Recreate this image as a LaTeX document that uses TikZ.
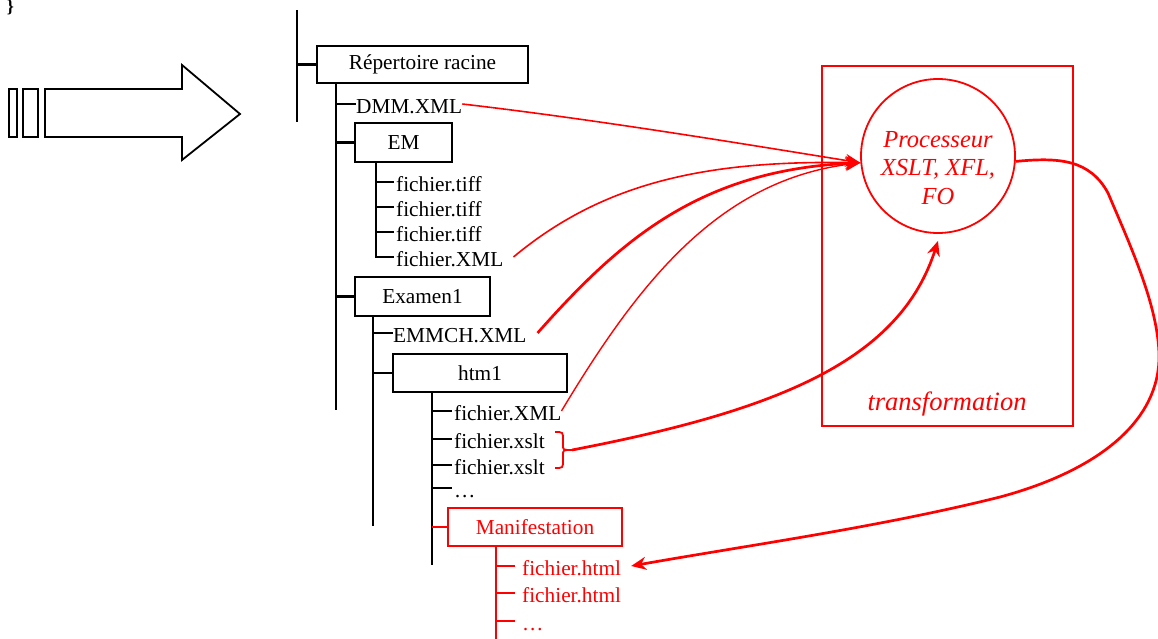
\documentclass[tikz,border=0pt]{standalone}
\usepackage{fontspec}
\setmainfont{Liberation Serif}
\usetikzlibrary{arrows.meta,calc}
\definecolor{rouge}{RGB}{255,0,0}
\begin{document}
\begin{tikzpicture}[x=1pt,y=-1pt,
  treeline/.style={line width=2.1pt,black},
  redline/.style={line width=2.1pt,rouge},
  txt/.style={font=\fontsize{21.3}{25}\selectfont},
  dirbox/.style={txt,draw,line width=1.8pt,minimum height=38pt,inner sep=0pt},
  leaf/.style={txt,anchor=west,inner sep=0pt,text height=19pt,text depth=0pt},
  redleaf/.style={leaf,text=rouge},
  ital/.style={text=rouge,font=\fontsize{24.5}{28.5}\selectfont\itshape,align=center,inner sep=0pt},
  link/.style={rouge,line width=1.6pt,-{Stealth[length=15pt,width=13pt,inset=5pt]}},
  biglink/.style={link,line width=2.7pt},
]
\clip (0,0) rectangle (1158,639);

% stray brace in the corner
\node[font=\fontsize{18}{18}\selectfont\bfseries,anchor=south,inner sep=0pt] (brk) at (10.5,15) {\}};

% big hollow arrow with its two bars
\draw[line width=1.8pt] (9,89) rectangle (17,137);
\draw[line width=1.8pt] (23,89) rectangle (38,137);
\draw[line width=1.8pt,line join=miter] (45,89) -- (182,89) -- (182,65) -- (240,114)
  -- (182,160) -- (182,137) -- (45,137) -- cycle;

% ---------- directory tree ----------
\coordinate (axis) at (297,10);
\coordinate (axisend) at (297,122);
\draw[treeline] (axis) -- (axisend);

\node[dirbox,minimum width=211pt,minimum height=37pt] (root) at (422.5,64.5) {Répertoire racine};
\draw[treeline] (axis |- root.west) -- (root.west);

\coordinate (rtrunk) at (336,410);
\draw[treeline] (rtrunk |- root.south) -- (rtrunk);

\node[leaf] (dmm) at (356,104) {DMM.XML};
\draw[treeline] (rtrunk |- dmm.west) -- (dmm.west);

\node[dirbox,minimum width=97pt,minimum height=39pt] (em) at (403.5,142.5) {EM};
\draw[treeline] (rtrunk |- em.west) -- (em.west);

\coordinate (emtrunk) at (376,257);
\node[leaf] (t1) at (396,182) {fichier.tiff};
\node[leaf] (t2) at (396,207) {fichier.tiff};
\node[leaf] (t3) at (396,232) {fichier.tiff};
\node[leaf] (fx) at (396,257) {fichier.XML};
\draw[treeline] (emtrunk |- em.south) -- (emtrunk) -- ([xshift=-2pt]fx.west);
\foreach \n in {t1,t2,t3}
  \draw[treeline] (emtrunk |- \n.west) -- ([xshift=-2pt]\n.west);

\node[dirbox,minimum width=135pt,minimum height=39pt] (ex) at (422.5,296.5) {Examen1};
\draw[treeline] (rtrunk |- ex.west) -- (ex.west);

\coordinate (extrunk) at (373,526);
\draw[treeline] (extrunk |- ex.south) -- (extrunk);
\node[leaf] (emmch) at (393,333) {EMMCH.XML};
\draw[treeline] (extrunk |- emmch.west) -- (emmch.west);

\node[dirbox,minimum width=174pt] (htm) at (480,373) {htm1};
\draw[treeline] (extrunk |- htm.west) -- (htm.west);

\coordinate (htrunk) at (432,565);
\draw[treeline] (htrunk |- htm.south) -- (htrunk);
\node[leaf] (hx) at (454,411) {fichier.XML};
\node[leaf] (xs1) at (454,439) {fichier.xslt};
\node[leaf] (xs2) at (454,465) {fichier.xslt};
\node[leaf] (dots) at (454,488) {…};
\foreach \n in {hx,xs1,xs2,dots}
  \draw[treeline] (htrunk |- \n.west) -- ([xshift=-2pt]\n.west);

\node[dirbox,draw=rouge,text=rouge,minimum width=174pt] (man) at (535,527) {Manifestation};
\draw[redline] (htrunk |- man.west) -- (man.west);

\coordinate (mtrunk) at (496,645);
\draw[redline] (mtrunk |- man.south) -- (mtrunk);
\node[redleaf] (h1) at (522,566) {fichier.html};
\node[redleaf] (h2) at (522,593) {fichier.html};
\node[redleaf] (hd) at (522,621) {…};
\foreach \n in {h1,h2,hd}
  \draw[redline] (mtrunk |- \n.west) -- ([xshift=-7pt]\n.west);

% brace grouping the two stylesheets
\coordinate (brtip) at (572,450);
\draw[rouge,line width=1.8pt] (555,432) .. controls (563,432) .. (563,440) -- (563,445)
  .. controls (563,450) .. (brtip);
\draw[rouge,line width=1.8pt] (555,468) .. controls (563,468) .. (563,460) -- (563,455)
  .. controls (563,450) .. (brtip);

% ---------- transformation block ----------
\node[draw=rouge,line width=2.1pt,minimum width=251pt,minimum height=360pt,inner sep=0pt] (tbox) at (947.5,246) {};
\node[ital,font=\fontsize{26.5}{28.5}\selectfont\itshape,anchor=base] (tlab) at (947,410) {transformation};
\node[circle,draw=rouge,line width=1.8pt,minimum size=154pt,inner sep=0pt] (proc) at (938,156) {};
\node[ital] (ptxt) at ($(proc.center)+(0,12)$) {Processeur\\XSLT, XFL,\\FO};

% ---------- flows ----------
\draw[link] (dmm.east) .. controls (600,120) and (750,145) .. (proc.185);
\draw[link] ($(fx.east)+(10,0)$) .. controls (600,185) and (700,160) .. (proc.185);
\draw[biglink] ($(emmch.east)+(11,0)$) .. controls (620,240) and (700,170) .. (proc.185);
\draw[link,line width=1.4pt] (hx.east) .. controls (640,280) and (720,180) .. (proc.185);
\draw[biglink] (brtip) .. controls (780,410) and (900,360) .. ($(proc.south)+(0,7)$);
\draw[biglink] (proc.-4) .. controls (1060,157) and (1090,160) .. (1108,193)
  .. controls (1130,245) and (1158,305) .. (1159,355)
  .. controls (1160,420) and (1100,470) .. (1000,497)
  .. controls (880,527) and (750,545) .. ($(h1.east)+(10,0)$);
\end{tikzpicture}
\end{document}
